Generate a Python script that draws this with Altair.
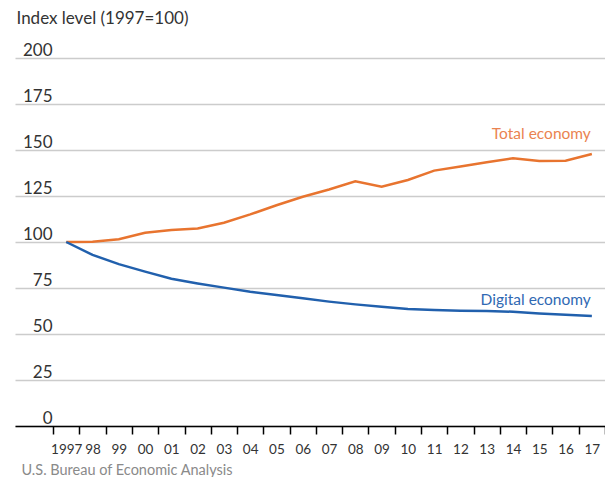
import altair as alt
import pandas as pd

years = list(range(1997, 2018))
total_economy = [100, 100.2, 101.5, 105, 106.5, 107.4, 110.5, 115, 120, 124.6, 128.5,
                 133, 130, 133.7, 138.8, 141, 143.3, 145.5, 144, 144.2, 147.8]
digital_economy = [100, 93, 88, 83.9, 80, 77.5, 75.2, 73, 71.2, 69.4, 67.6,
                   66.1, 64.8, 63.6, 63, 62.7, 62.5, 62.1, 61.2, 60.5, 59.8]
series_names = ["Total economy", "Digital economy"]
line_colors = ["#E8742F", "#2160AD"]
label_colors = ["#EA8350", "#3069B3"]
label_values = [156, 66]
y_ticks = [0, 25, 50, 75, 100, 125, 150, 175, 200]
x_ticks = [y - 0.5 for y in range(1997, 2019)]

rows = []
for i, yr in enumerate(years):
    rows.append({"year": yr, "value": total_economy[i], "series": series_names[0]})
    rows.append({"year": yr, "value": digital_economy[i], "series": series_names[1]})
df = pd.DataFrame(rows)

labels_df = pd.DataFrame({"year": [2017, 2017], "value": label_values,
                          "series": series_names})

FONT = "Lato"

x_scale = alt.Scale(domain=[1995.05, 2017.5], nice=False, zero=False)
y_scale = alt.Scale(domain=[0, 200], nice=False)

x_axis = alt.Axis(
    values=x_ticks,
    title="U.S. Bureau of Economic Analysis",
    titleAnchor="start", titleAlign="left", titleBaseline="alphabetic", titleX=6, titleY=48,
    titleFont=FONT, titleFontSize=14.5, titleFontWeight="normal", titleColor="#8a8a8a",
    domainColor="#000000", domainWidth=1.5,
    ticks=True, tickColor="#000000", tickSize=8, tickWidth=1.5,
    labelExpr="datum.value > 2017 ? '' : (datum.value < 1997 ? '1997' : slice(toString(floor(datum.value + 0.5)), 2))",
    labelOffset=13.1, labelAlign="center", labelPadding=8,
    labelFont=FONT, labelFontSize=13.5, labelColor="#333333",
    grid=False, labelOverlap=False, labelFlush=False, labelBound=False,
)

y_axis = alt.Axis(
    values=y_ticks,
    title="Index level (1997=100)",
    titleAngle=0, titleAnchor="start", titleAlign="left", titleBaseline="alphabetic",
    titleX=1, titleY=-35,
    titleFont=FONT, titleFontSize=17, titleFontWeight="normal", titleColor="#333333",
    domain=False, ticks=False,
    labelAlign="right", labelBaseline="alphabetic", labelPadding=-37, labelOffset=-3,
    labelFont=FONT, labelFontSize=17, labelColor="#333333",
    grid=True, gridColor="#cccccc", gridWidth=1.5, labelOverlap=False,
)

lines = alt.Chart(df).mark_line(strokeWidth=2.5).encode(
    x=alt.X("year:Q", scale=x_scale, axis=x_axis),
    y=alt.Y("value:Q", scale=y_scale, axis=y_axis),
    color=alt.Color("series:N", scale=alt.Scale(domain=series_names, range=line_colors), legend=None),
    detail="series:N",
)

texts = alt.Chart(labels_df).mark_text(
    align="right", baseline="alphabetic", dx=-1, font=FONT, fontSize=15.5
).encode(
    x=alt.X("year:Q", scale=x_scale, axis=x_axis),
    y=alt.Y("value:Q", scale=y_scale, axis=y_axis),
    text="series:N",
    color=alt.Color("series:N", scale=alt.Scale(domain=series_names, range=label_colors), legend=None),
)

chart = alt.layer(lines, texts).resolve_scale(color="independent").properties(
    width=590, height=368,
    background="#ffffff",
    autosize=alt.AutoSizeParams(type="none"),
    padding={"left": 7, "top": 50, "right": 0, "bottom": 51},
).configure_view(stroke=None).configure_axisX(labelOverlap=False)

chart.save("out.html", embed_options={"renderer": "svg", "actions": False})
